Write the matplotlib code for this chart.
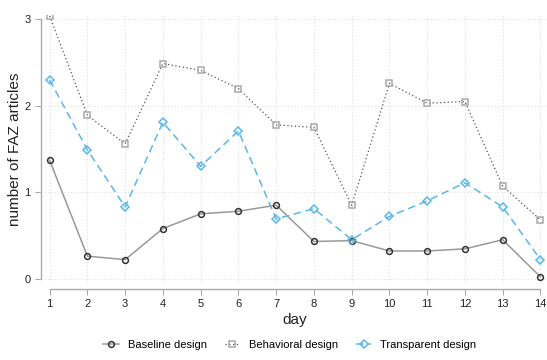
import matplotlib.pyplot as plt

plt.rcParams['font.family'] = ['Liberation Sans', 'DejaVu Sans']

days = list(range(1, 15))
baseline = [1.37, 0.26, 0.22, 0.58, 0.75, 0.78, 0.85, 0.43, 0.44, 0.32, 0.32, 0.345, 0.45, 0.02]
behavioral = [3.04, 1.89, 1.56, 2.49, 2.41, 2.20, 1.78, 1.75, 0.85, 2.26, 2.03, 2.05, 1.07, 0.68]
transparent = [2.30, 1.49, 0.83, 1.81, 1.30, 1.71, 0.69, 0.81, 0.45, 0.72, 0.90, 1.11, 0.83, 0.22]

blue = '#5ab8ea'

fig = plt.figure(figsize=(5.47, 3.6), dpi=100)
ax = fig.add_axes([0.0804, 0.214, 0.918, 0.744])

ax.plot(days, baseline, color='#999999', lw=1.1, marker='o', ms=4.2,
        mfc='none', mec='#333333', mew=1.1, label='Baseline design')
ax.plot(days, behavioral, color='#555555', lw=0.9, ls=(0, (1, 2)), marker='s', ms=4.2,
        mfc='none', mec='#aaaaaa', mew=1.1, label='Behavioral design')
ax.plot(days, transparent, color=blue, lw=1.1, ls=(0, (5, 3)), marker='D', ms=4.2,
        mfc='none', mec=blue, mew=1.1, label='Transparent design')

ax.set_xlim(0.85, 14.15)
ax.set_ylim(-0.05, 3.05)
ax.set_xticks(days)
ax.set_yticks([0, 1, 2, 3])
ax.grid(True, color='#dddddd', ls=(0, (1, 2)), lw=0.8)
ax.set_axisbelow(True)

for s in ['top', 'right']:
    ax.spines[s].set_visible(False)
ax.spines['left'].set_position(('outward', 2))
ax.spines['bottom'].set_position(('outward', 4))
ax.spines['left'].set_bounds(0, 3)
ax.spines['bottom'].set_bounds(1, 14)
for s in ['left', 'bottom']:
    ax.spines[s].set_color('#aaaaaa')
    ax.spines[s].set_linewidth(1.0)
ax.tick_params(colors='#aaaaaa', labelcolor='#222222', labelsize=8, length=4)

ax.set_xlabel('day', fontsize=11, color='#222222', labelpad=3)
ax.set_ylabel('number of FAZ articles', fontsize=11, color='#222222', labelpad=2)

fig.legend(loc='lower center', bbox_to_anchor=(0.53, 0.0), ncol=3, frameon=False,
           fontsize=8, handlelength=1.4, handletextpad=0.8, columnspacing=1.6)

fig.savefig('out.png', dpi=100)
